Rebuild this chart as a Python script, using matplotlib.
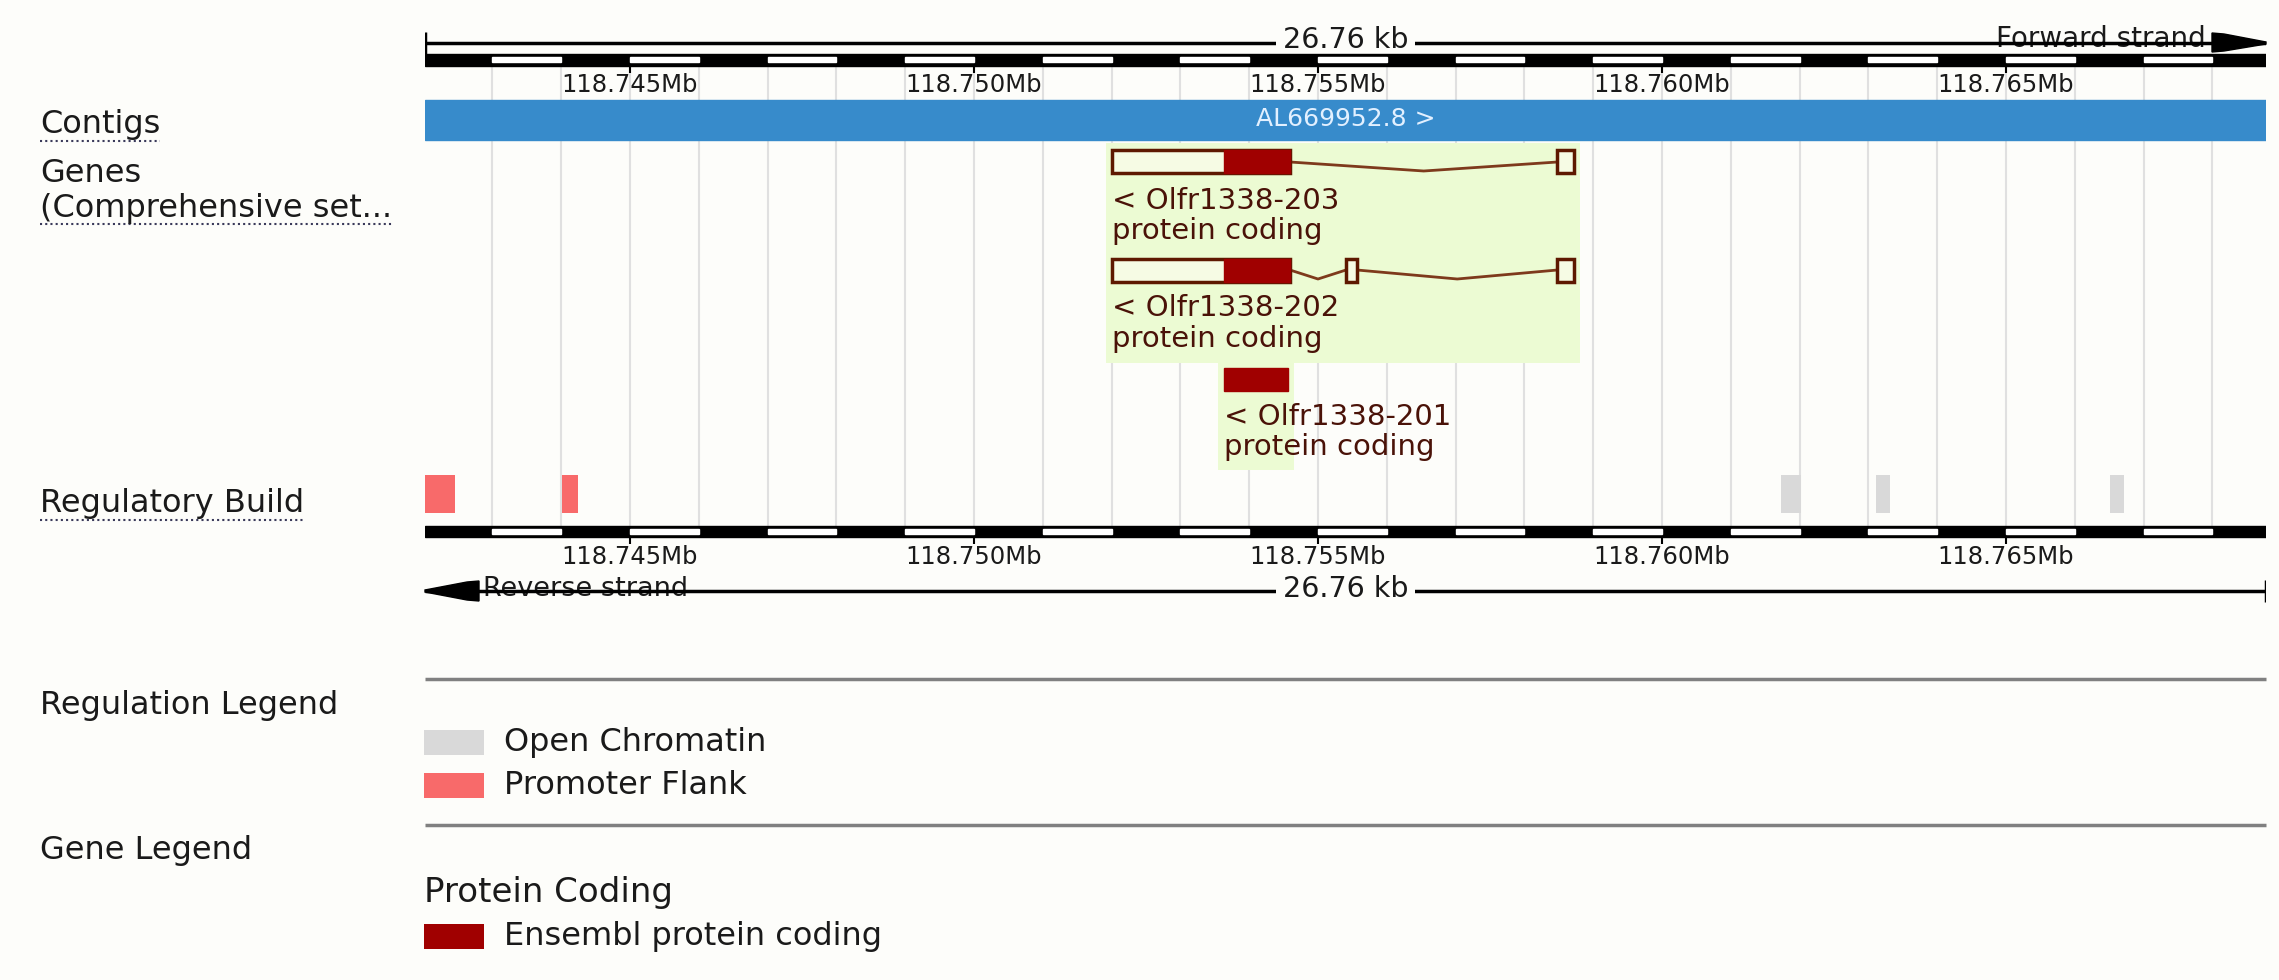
import numpy as np
import matplotlib.pyplot as plt
from matplotlib.patches import Rectangle, Polygon

plt.rcParams['font.family'] = 'DejaVu Sans'

W, H = 2279, 980

# region on display (bp)
start_bp = 118742020
end_bp = 118768780
tick_mb = [118.745, 118.750, 118.755, 118.760, 118.765]
span_label = '26.76 kb'
contig_name = 'AL669952.8 >'

# transcripts (reverse strand)
tx_names = ['Olfr1338-203', 'Olfr1338-202', 'Olfr1338-201']
tx_biotype = ['protein coding', 'protein coding', 'protein coding']
tx_exons = [
    [(118752005, 118754593), (118758481, 118758721)],
    [(118752005, 118754593), (118755407, 118755567), (118758481, 118758721)],
    [(118753633, 118754564)],
]
tx_coding = [(118753633, 118754593), (118753633, 118754593), (118753633, 118754564)]

# regulatory build
promoter_flank = [(118742020, 118742456), (118744011, 118744244)]
open_chromatin = [(118761729, 118762020), (118763110, 118763314), (118766511, 118766715)]

reg_legend = ['Open Chromatin', 'Promoter Flank']
gene_legend_title = 'Protein Coding'
gene_legend = ['Ensembl protein coding']

BG = '#fdfdfa'
CONTIG = '#378bcb'
PF = '#f86a6a'
OC = '#d9d9d9'
PC = '#a00000'
HL = '#ecfbd3'
UTR = '#f6fbe4'
OUTLINE = '#5e1800'
INTRON = '#7e3a1c'
LABEL = '#4a1208'
TXT = '#1a1a1a'
GRID = '#e0e0e0'

fig = plt.figure(figsize=(W / 100, H / 100), dpi=100)
fig.patch.set_facecolor(BG)

base = fig.add_axes([0, 0, 1, 1])
base.set_xlim(0, W)
base.set_ylim(H, 0)
base.axis('off')

L, R = 425, 2266
ax = fig.add_axes([L / W, 0, (R - L) / W, 1])
ax.set_xlim(start_bp, end_bp)
ax.set_ylim(H, 0)
ax.axis('off')
ax.patch.set_alpha(0)
bp_px = (end_bp - start_bp) / (R - L)

# grid lines every kb
kb = np.arange(np.ceil(start_bp / 1000) * 1000, end_bp, 1000)
ax.vlines(kb, 54, 537, color=GRID, lw=1.5, zorder=0)

# rulers
for y0, y1, ly in [(54, 66, 85), (526, 537, 557)]:
    ax.add_patch(Rectangle((start_bp, y0), end_bp - start_bp, y1 - y0, color='black', zorder=5))
    for k in kb:
        if int(k // 1000) % 2 == 1:
            ax.add_patch(Rectangle((k, y0 + 3), min(1000, end_bp - k), 5, color='white', zorder=6))
    for t in tick_mb:
        ax.vlines(t * 1e6, y1, y1 + 7, color='black', lw=1.5, zorder=6)
        ax.text(t * 1e6, ly, f'{t:.3f}Mb', ha='center', va='center', fontsize=17.5, color=TXT)

# top strand line
ax.hlines(43, start_bp, end_bp, color='black', lw=2.5)
ax.vlines(start_bp, 32, 54, color='black', lw=2.5)
ax.text((start_bp + end_bp) / 2, 40, span_label, ha='center', va='center', fontsize=20.5, color=TXT,
        bbox=dict(boxstyle='square,pad=0.25', fc=BG, ec='none'))
base.text(2206, 39, 'Forward strand', ha='right', va='center', fontsize=20, color=TXT,
          bbox=dict(boxstyle='square,pad=0.2', fc=BG, ec='none'))
base.add_patch(Polygon([(2212, 33), (2224, 34), (R, 42), (R, 44), (2224, 51), (2212, 52)],
                       closed=True, color='black', zorder=5))

# bottom strand line
ax.hlines(591, start_bp, end_bp, color='black', lw=2.5)
ax.vlines(end_bp, 580, 602, color='black', lw=2.5)
ax.text((start_bp + end_bp) / 2, 589, span_label, ha='center', va='center', fontsize=20.5, color=TXT,
        bbox=dict(boxstyle='square,pad=0.25', fc=BG, ec='none'))
base.text(483, 589, 'Reverse strand', ha='left', va='center', fontsize=19.5, color=TXT,
          bbox=dict(boxstyle='square,pad=0.2', fc=BG, ec='none'))
base.add_patch(Polygon([(479, 581), (467, 582), (L, 590), (L, 592), (467, 600), (479, 601)],
                       closed=True, color='black', zorder=5))

# contig
ax.add_patch(Rectangle((start_bp, 100), end_bp - start_bp, 40, color=CONTIG, zorder=2))
ax.text((start_bp + end_bp) / 2, 119, contig_name, ha='center', va='center', fontsize=18,
        color='#e2f0ff', zorder=3)

# transcripts
rows = [162, 270, 379]
label_y = [(201, 231), (308, 339), (417, 447)]
hl_rows = [(143, 250), (250, 363), (363, 470)]
pad = 6 * bp_px
h = 23
for i, name in enumerate(tx_names):
    ex = tx_exons[i]
    t0, t1 = ex[0][0], ex[-1][1]
    ax.add_patch(Rectangle((t0 - pad, hl_rows[i][0]), t1 - t0 + 2 * pad, hl_rows[i][1] - hl_rows[i][0],
                           color=HL, lw=0, zorder=1))
    yc = rows[i]
    for (a0, a1), (b0, b1) in zip(ex[:-1], ex[1:]):
        ax.plot([a1, (a1 + b0) / 2, b0], [yc, yc + 9, yc], color=INTRON, lw=2, zorder=2)
    cs, ce = tx_coding[i]
    for e0, e1 in ex:
        c0, c1 = max(e0, cs), min(e1, ce)
        if e0 < cs or e1 > ce:
            ax.add_patch(Rectangle((e0, yc - h / 2), e1 - e0, h, fc=UTR, ec=OUTLINE, lw=2.5, zorder=3))
        if c1 > c0:
            ax.add_patch(Rectangle((c0, yc - h / 2), c1 - c0, h, fc=PC, ec=PC, lw=1, zorder=4))
    ax.text(t0, label_y[i][0], '< ' + name, ha='left', va='center', fontsize=21, color=LABEL, zorder=5)
    ax.text(t0, label_y[i][1], tx_biotype[i], ha='left', va='center', fontsize=21, color=LABEL, zorder=5)

# regulatory build
for a, b in promoter_flank:
    ax.add_patch(Rectangle((a, 475), b - a, 38, color=PF, lw=0, zorder=3))
for a, b in open_chromatin:
    ax.add_patch(Rectangle((a, 475), b - a, 38, color=OC, lw=0, zorder=3))

# track labels
under = []
under.append(base.text(40, 125, 'Contigs', ha='left', va='center', fontsize=23, color=TXT))
base.text(40, 174, 'Genes', ha='left', va='center', fontsize=23, color=TXT)
under.append(base.text(40, 208, '(Comprehensive set...', ha='left', va='center', fontsize=23, color=TXT))
under.append(base.text(40, 503, 'Regulatory Build', ha='left', va='center', fontsize=23, color=TXT))

# legends
base.hlines([679, 825], L, R, color='#808080', lw=2.5)
base.text(40, 705, 'Regulation Legend', ha='left', va='center', fontsize=23, color=TXT)
for j, (lab, col) in enumerate(zip(reg_legend, [OC, PF])):
    y = 730 + j * 43
    base.add_patch(Rectangle((L - 1, y), 60, 25, color=col, lw=0))
    base.text(504, y + 12, lab, ha='left', va='center', fontsize=23, color=TXT)
base.text(40, 850, 'Gene Legend', ha='left', va='center', fontsize=23, color=TXT)
base.text(L - 1, 892, gene_legend_title, ha='left', va='center', fontsize=24.5, color=TXT)
for j, lab in enumerate(gene_legend):
    y = 924 + j * 43
    base.add_patch(Rectangle((L - 1, y), 60, 25, color=PC, lw=0))
    base.text(504, y + 12, lab, ha='left', va='center', fontsize=23, color=TXT)

# dotted underlines under track labels
fig.canvas.draw()
inv = base.transData.inverted()
for t in under:
    bb = t.get_window_extent()
    (x0, y0), (x1, y1) = inv.transform([(bb.x0, bb.y0), (bb.x1, bb.y1)])
    base.plot([x0, x1], [y0 + 1, y0 + 1], color='#3a3a5a', lw=1.5, ls=(0, (1, 1.5)))

fig.savefig('out.png', dpi=100, facecolor=BG)
